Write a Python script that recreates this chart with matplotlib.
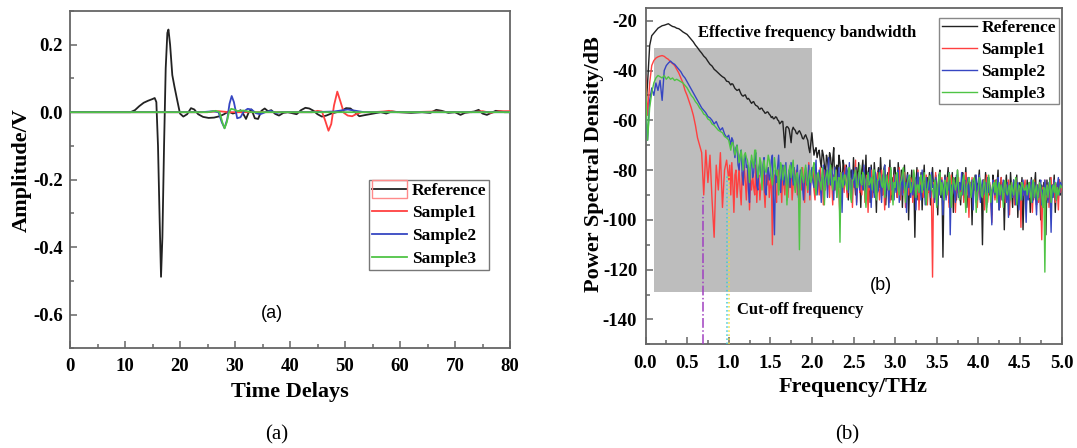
import numpy as np
import matplotlib
matplotlib.use("Agg")
import matplotlib.pyplot as plt
from matplotlib.patches import Rectangle
from matplotlib.ticker import MultipleLocator, FormatStrFormatter

# ---------------- data: panel (a) time-domain waveforms ----------------
t_ref = [0, 11.0, 11.8, 12.6, 13.4, 14.2, 15.0, 15.4, 15.7, 16.0, 16.3, 16.55, 16.8, 17.1,
         17.4, 17.7, 17.9, 18.2, 18.6, 19.0, 19.5, 20.0, 20.6, 21.3, 22.0, 22.6, 23.3, 24.2,
         25.2, 26.2, 27.2, 28.0, 28.8, 29.6, 30.4, 31.0, 31.5, 32.0, 32.5, 33.0, 33.6, 34.2,
         34.8, 35.4, 36.0, 36.6, 37.3, 38.0, 38.8, 39.6, 40.4, 41.2, 42.0, 42.8, 43.5, 44.3,
         45.0, 45.8, 46.6, 47.5, 48.5, 49.4, 50.2, 51.0, 51.8, 52.6, 53.5, 54.5, 55.5, 56.5,
         57.5, 58.5, 60.0, 62.0, 64.0, 65.5, 66.6, 67.6, 68.8, 70.0, 71.0, 71.8, 72.6, 73.5,
         74.3, 75.0, 75.8, 76.6, 77.4, 78.2, 79.0, 80.0]
amp_ref = [0, 0, 0.006, 0.018, 0.028, 0.034, 0.039, 0.042, 0.03, -0.1, -0.32, -0.488, -0.37, -0.1,
           0.13, 0.235, 0.245, 0.2, 0.11, 0.075, 0.035, -0.004, -0.013, -0.006, 0.012, 0.008, -0.006, -0.014,
           -0.017, -0.016, -0.012, -0.006, 0.002, -0.004, 0.0, 0.006, -0.005, -0.02, 0.0, 0.008, -0.018, -0.02,
           0.004, 0.011, 0.003, 0.006, -0.005, -0.01, -0.002, 0.0, -0.003, -0.006, 0.006, 0.013, 0.011, 0.004,
           -0.006, -0.013, -0.01, -0.004, 0.0, 0.004, 0.012, 0.011, 0.0, -0.012, -0.009, -0.006, -0.003, 0.0,
           -0.004, 0.002, 0.0, -0.002, 0.0, -0.002, 0.007, 0.004, -0.002, 0.0, -0.008, -0.002, 0.0, 0.002,
           0.007, -0.004, -0.008, -0.002, 0.004, 0.003, 0.0, 0.0]

t_s1 = [0, 25.0, 27.0, 29.0, 44.0, 45.0, 45.8, 46.4, 47.0, 47.5, 48.0, 48.6, 49.2, 49.8, 50.5,
        51.3, 52.0, 53.0, 55.0, 57.0, 58.0, 59.5, 62.0, 66.0, 70.0, 73.0, 75.0, 76.5, 78.0, 80.0]
amp_s1 = [0, 0, 0.003, 0, 0, 0.004, 0.002, -0.025, -0.055, -0.035, 0.02, 0.061, 0.03, -0.002, -0.01,
          -0.012, -0.006, 0, 0, 0.002, 0.004, 0, 0, 0.002, 0, 0, 0.003, -0.002, 0.003, 0.003]

t_s2 = [0, 24.0, 26.0, 27.0, 27.6, 28.1, 28.6, 29.0, 29.4, 29.8, 30.4, 31.0, 31.6, 32.3, 33.0,
        33.8, 34.6, 35.5, 36.5, 37.5, 38.5, 40.0, 44.0, 48.0, 50.5, 52.0, 53.5, 55.0, 60.0, 80.0]
amp_s2 = [0, 0, 0.003, 0.0, -0.03, -0.047, -0.02, 0.025, 0.048, 0.03, -0.018, -0.015, 0.002, 0.01, 0.008,
          -0.003, -0.006, 0.0, 0.004, -0.002, 0.0, 0.0, 0.0, 0.002, 0.008, 0.004, 0.0, 0.0, 0.0, 0.0]

t_s3 = [0, 25.0, 26.5, 27.2, 27.7, 28.1, 28.5, 28.9, 29.3, 29.8, 30.5, 31.5, 33.0, 80.0]
amp_s3 = [0, 0.0, 0.004, 0.0, -0.03, -0.048, -0.03, 0.0, 0.01, 0.008, 0.003, 0.005, 0.0, 0.0]

# ---------------- data: panel (b) power spectral density (dB) ----------------
# 0.000 - 0.975 THz, step 0.025
step_lo = 0.025
psd_ref_lo = [
    -58, -45, -30, -26, -25, -24, -23, -22.5, -22, -21.8, -21.5, -21.2, -21.8, -22.3, -22.5, -23, -23.2, -23.8, -24.5, -25,
    -25.5, -26.5, -27.5, -28.5, -29.8, -30.8, -32, -33, -34.2, -35, -36.3, -37.5, -38.2, -39.5, -40.2, -41, -41.8, -42.5, -43, -44.3]
psd_s1_lo = [
    -42, -58, -45, -38, -36, -35, -34.5, -34.2, -34, -34.3, -35, -35.5, -36.5, -37.2, -38, -39.5, -41, -43, -45, -48,
    -50, -52.5, -55, -58, -62, -67, -70, -73, -90, -72, -85, -74, -92, -107, -78, -88, -73, -95, -80, -76]
psd_s2_lo = [
    -55, -68, -52, -47, -50, -45, -48, -44, -52, -40, -38, -37, -36.2, -37, -37.5, -38.5, -39.5, -40.5, -42, -43,
    -44.5, -46, -47.5, -49, -50.5, -52, -53.5, -55, -56, -57, -58.5, -59, -60, -61.5, -60.5, -62.5, -64, -63, -65.5, -67]
psd_s3_lo = [
    -45, -68, -55, -49, -45, -43, -42, -42.5, -43, -42, -43.5, -42.5, -43.5, -43, -44, -43.5, -44, -44.5, -45, -46,
    -47, -48.5, -50, -51, -52.5, -53.5, -55, -56, -57.5, -58, -59.5, -60, -61.5, -62, -63, -64, -64.5, -65, -66.5, -67]

# 1.000 - 5.000 THz, step 0.0125
f_hi_start = 1.0
step_hi = 0.0125
psd_ref_hi = [
    -44.5, -45.2, -45.8, -45.3, -45.5, -46.4, -47.2, -47.6, -48, -47.8, -47.5, -48.6, -49.5, -50.1, -50.3, -49.9,
    -49.8, -50.8, -51.5, -51.2, -51.8, -52.6, -53.2, -52.7, -52.5, -53.4, -54, -54.2, -54.5, -55.3, -55.6, -55.1,
    -55.2, -56, -56.5, -57.2, -57, -56.6, -56.8, -57.6, -58, -58.9, -58.5, -59.4, -59.3, -58.6, -58.8, -59.8,
    -60.2, -61.4, -61, -60.4, -60.5, -66, -71, -63, -62.5, -62.8, -63.5, -66, -69, -64, -62.8, -63.6,
    -64, -65.2, -65.5, -64.6, -64.2, -65, -66, -67.3, -67.5, -66.4, -65.8, -67, -68, -71, -73, -69,
    -65, -70, -74, -72, -71, -75, -73, -72, -76, -79, -72, -74, -78, -83, -74, -76,
    -80, -73, -75, -82, -76, -71, -88, -79, -78, -84, -74, -77, -83, -90, -76, -79,
    -85, -78, -81, -92, -79, -83, -80, -87, -75, -84, -90, -79, -86, -77, -82, -95,
    -80, -76, -88, -83, -74, -91, -81, -79, -93, -78, -85, -89, -77, -84, -97, -82,
    -79, -87, -75, -83, -90, -80, -78, -94, -84, -81, -86, -76, -92, -83, -88, -79,
    -79, -86, -91, -77, -84, -88, -80, -95, -82, -78, -89, -85, -81, -100, -83, -87,
    -80, -90, -84, -107, -86, -79, -92, -83, -88, -81, -96, -85, -78, -91, -86, -83,
    -89, -81, -94, -84, -79, -88, -92, -82, -86, -98, -83, -80, -91, -85, -115, -87,
    -82, -90, -84, -79, -93, -86, -88, -81, -97, -85, -83, -92, -80, -89, -87, -94,
    -84, -81, -91, -86, -79, -95, -88, -83, -90, -85, -102, -84, -87, -82, -93, -86,
    -85, -80, -92, -87, -110, -84, -89, -81, -94, -86, -83, -90, -88, -98, -82, -87,
    -91, -84, -86, -80, -96, -88, -83, -92, -85, -104, -87, -82, -90, -86, -93, -81,
    -88, -95, -84, -90, -86, -82, -99, -87, -85, -91, -83, -104, -88, -86, -93, -84,
    -90, -85, -97, -83, -88, -92, -86, -81, -94, -87, -89, -84, -100, -86, -91, -85,
    -88, -106, -84, -92, -87, -83, -95, -86, -89, -82, -97, -88, -85, -91, -84, -90,
    -86]
psd_s1_hi = [
    -84, -78, -90, -77, -86, -97, -82, -80, -91, -85, -79, -88, -94, -81, -86, -78,
    -85, -92, -80, -79, -96, -84, -88, -81, -87, -90, -78, -93, -84, -82, -92, -86,
    -84, -80, -88, -95, -82, -86, -79, -91, -86, -83, -110, -85, -82, -89, -93, -80,
    -80, -88, -84, -93, -79, -86, -90, -81, -85, -91, -83, -87, -80, -92, -86, -84,
    -87, -80, -90, -85, -95, -82, -88, -79, -86, -93, -81, -84, -89, -77, -92, -83,
    -84, -79, -88, -92, -80, -85, -82, -90, -79, -86, -83, -94, -80, -88, -84, -81,
    -85, -91, -79, -84, -94, -82, -88, -80, -87, -83, -90, -99, -81, -86, -84, -89,
    -78, -86, -91, -83, -80, -88, -84, -95, -82, -87, -76, -93, -85, -81, -89, -84,
    -90, -83, -79, -93, -86, -82, -97, -84, -88, -80, -91, -85, -83, -89, -86, -81,
    -84, -92, -87, -80, -90, -85, -96, -82, -86, -88, -79, -93, -84, -90, -86, -82,
    -88, -82, -91, -85, -79, -92, -86, -83, -89, -81, -95, -87, -84, -90, -86, -83,
    -85, -93, -81, -88, -86, -90, -80, -96, -84, -89, -83, -91, -85, -87, -82, -94,
    -86, -89, -83, -92, -123, -85, -88, -81, -94, -86, -90, -84, -87, -83, -92, -88,
    -85, -91, -83, -88, -95, -86, -82, -90, -87, -84, -97, -85, -89, -83, -92, -86,
    -88, -84, -93, -86, -81, -90, -87, -99, -85, -89, -83, -92, -86, -88, -84, -95,
    -87, -83, -91, -86, -89, -84, -96, -86, -82, -93, -88, -85, -90, -101, -86, -84,
    -92, -87, -84, -90, -86, -95, -83, -89, -88, -85, -93, -86, -91, -84, -98, -87,
    -85, -90, -87, -94, -84, -89, -86, -92, -88, -103, -85, -90, -87, -84, -95, -88,
    -86, -91, -85, -89, -97, -87, -84, -92, -88, -86, -93, -85, -90, -108, -87, -89,
    -84, -92, -88, -86, -95, -87, -83, -90, -89, -85, -93, -86, -88, -96, -84, -89,
    -87]
psd_s2_hi = [
    -66, -68, -70, -67, -68, -72, -75, -71, -70, -78, -80, -74, -72, -82, -86, -76,
    -74, -79, -78, -88, -93, -77, -76, -83, -81, -75, -73, -86, -88, -79, -77, -82,
    -84, -78, -75, -89, -90, -81, -79, -84, -82, -76, -74, -92, -106, -80, -85, -79,
    -74, -83, -89, -80, -78, -86, -83, -77, -92, -84, -80, -87, -77, -82, -86, -79,
    -88, -83, -78, -91, -84, -80, -81, -87, -92, -82, -79, -86, -85, -78, -90, -83,
    -79, -85, -87, -81, -76, -90, -84, -80, -85, -93, -82, -78, -88, -83, -80, -91,
    -75, -84, -86, -80, -82, -92, -79, -85, -91, -83, -79, -87, -84, -97, -81, -86,
    -85, -79, -81, -89, -77, -86, -92, -80, -83, -87, -79, -94, -84, -81, -88, -82,
    -82, -88, -78, -85, -90, -84, -81, -87, -79, -95, -83, -86, -91, -81, -84, -89,
    -88, -80, -85, -93, -82, -87, -78, -90, -84, -86, -95, -83, -80, -88, -85, -92,
    -82, -89, -84, -80, -93, -86, -83, -90, -81, -88, -85, -97, -82, -87, -84, -91,
    -85, -90, -87, -83, -96, -84, -81, -89, -86, -92, -80, -88, -85, -94, -83, -87,
    -88, -84, -91, -81, -87, -86, -93, -83, -89, -94, -82, -90, -87, -84, -98, -86,
    -83, -92, -85, -88, -81, -106, -86, -90, -84, -89, -93, -82, -87, -91, -85, -88,
    -81, -90, -86, -84, -95, -87, -83, -91, -86, -89, -84, -96, -85, -88, -82, -92,
    -86, -82, -93, -87, -84, -90, -88, -85, -95, -83, -89, -86, -91, -102, -84, -88,
    -90, -85, -87, -83, -96, -88, -86, -92, -84, -89, -87, -93, -85, -99, -86, -90,
    -86, -91, -84, -88, -94, -87, -85, -96, -89, -86, -92, -84, -90, -88, -101, -86,
    -92, -86, -89, -84, -93, -88, -85, -90, -98, -86, -91, -87, -84, -94, -88, -90,
    -84, -90, -87, -93, -85, -89, -105, -86, -91, -84, -88, -92, -86, -83, -90, -85,
    -86]
psd_s3_hi = [
    -68, -70, -72, -69, -69, -71, -74, -72, -70, -73, -77, -75, -72, -76, -80, -74,
    -73, -75, -76, -79, -85, -78, -74, -77, -79, -72, -72, -78, -83, -80, -75, -77,
    -88, -79, -76, -80, -81, -78, -74, -76, -79, -83, -86, -82, -75, -79, -82, -80,
    -90, -83, -77, -79, -84, -81, -78, -82, -94, -85, -80, -78, -83, -79, -76, -84,
    -89, -82, -81, -86, -112, -84, -79, -83, -85, -81, -78, -84, -88, -83, -80, -85,
    -83, -79, -77, -86, -90, -82, -81, -84, -85, -88, -79, -83, -94, -84, -82, -80,
    -86, -81, -78, -85, -88, -83, -84, -80, -91, -85, -83, -109, -81, -84, -87, -82,
    -82, -86, -88, -81, -79, -90, -93, -84, -84, -82, -80, -87, -87, -83, -78, -85,
    -86, -81, -82, -89, -95, -84, -81, -86, -85, -83, -88, -80, -80, -89, -92, -84,
    -84, -81, -83, -86, -87, -80, -91, -85, -82, -86, -88, -84, -79, -87, -94, -85,
    -87, -82, -81, -88, -90, -85, -84, -81, -79, -86, -93, -87, -85, -83, -82, -89,
    -88, -85, -80, -84, -91, -86, -86, -89, -83, -82, -89, -85, -81, -87, -94, -88,
    -85, -83, -82, -88, -88, -91, -84, -86, -95, -87, -83, -81, -90, -85, -88, -92,
    -84, -86, -90, -85, -81, -84, -95, -88, -83, -85, -88, -86, -80, -87, -92, -89,
    -90, -84, -82, -88, -97, -86, -85, -83, -85, -91, -88, -84, -83, -86, -97, -89,
    -88, -83, -84, -90, -91, -86, -84, -89, -97, -86, -82, -87, -93, -88, -86, -85,
    -89, -84, -93, -87, -85, -90, -86, -88, -95, -85, -84, -89, -90, -87, -86, -92,
    -85, -88, -90, -86, -83, -94, -89, -86, -87, -92, -85, -86, -88, -88, -86, -90,
    -87, -85, -89, -93, -86, -84, -91, -88, -86, -92, -89, -85, -87, -90, -95, -87,
    -121, -88, -86, -91, -87, -84, -93, -88, -86, -89, -85, -92, -87, -90, -88, -86,
    -87]

series_names = ["Reference", "Sample1", "Sample2", "Sample3"]

# annotations of panel (b)
band_f = (0.1, 2.0)          # effective frequency bandwidth (THz)
band_db = (-129, -31)        # vertical extent of the shaded box (dB)
cutoff_s1 = (0.69, -91)      # (frequency, top of marker line)
cutoff_s2 = (0.985, -82)
cutoff_s3 = (1.005, -82)

# ---------------- style ----------------
SERIF = ['Liberation Serif', 'DejaVu Serif']
SANS = ['Liberation Sans', 'DejaVu Sans']
plt.rcParams['font.family'] = SERIF
plt.rcParams['font.weight'] = 'bold'
plt.rcParams['axes.unicode_minus'] = False

colors = ['#222222', '#ff4040', '#3646c2', '#4fc445']
spine_c = '#666666'

fig = plt.figure(figsize=(10.77, 4.48), dpi=100)
W, H = 1077.0, 448.0
ax1 = fig.add_axes([70 / W, 1 - 348.3 / H, 440 / W, 337.3 / H])
ax2 = fig.add_axes([645.5 / W, 1 - 344.3 / H, 416 / W, 336 / H])


def style_axes(ax, xpad, ypad):
    for s in ax.spines.values():
        s.set_color(spine_c)
        s.set_linewidth(1.3)
    ax.tick_params(which='both', direction='in', top=False, right=False, color=spine_c, width=1.1)
    ax.tick_params(which='major', length=5, labelsize=13.5)
    ax.tick_params(which='minor', length=3)
    ax.tick_params(axis='x', pad=xpad)
    ax.tick_params(axis='y', pad=ypad)
    for lab in ax.get_xticklabels() + ax.get_yticklabels():
        lab.set_fontweight('bold')


# ---------------- panel (a) ----------------
ax1.plot(t_ref, amp_ref, color=colors[0], lw=1.3, label=series_names[0], zorder=2)
ax1.plot(t_s1, amp_s1, color=colors[1], lw=1.3, label=series_names[1], zorder=3)
ax1.plot(t_s2, amp_s2, color=colors[2], lw=1.3, label=series_names[2], zorder=4)
ax1.plot(t_s3, amp_s3, color=colors[3], lw=1.3, label=series_names[3], zorder=5)
ax1.set_xlim(0, 80)
ax1.set_ylim(-0.7, 0.3)
ax1.xaxis.set_major_locator(MultipleLocator(10))
ax1.xaxis.set_minor_locator(MultipleLocator(5))
ax1.yaxis.set_minor_locator(MultipleLocator(0.1))
ax1.xaxis.set_major_formatter(FormatStrFormatter('%d'))
ax1.yaxis.set_major_formatter(FormatStrFormatter('%.1f'))
ax1.set_yticks([-0.6, -0.4, -0.2, 0.0, 0.2])
style_axes(ax1, 7, 5)

leg1 = ax1.legend(loc='upper left', bbox_to_anchor=(0.68, 0.499), borderaxespad=0,
                  fancybox=False, edgecolor='#777777', framealpha=1,
                  prop={'family': SERIF, 'weight': 'bold', 'size': 12.5},
                  handlelength=2.05, handletextpad=0.25, borderpad=0.15, labelspacing=0.38)
leg1.get_frame().set_linewidth(1.0)

ax1.text(36.7, -0.598, '(a)', family=SANS, fontweight='normal', fontsize=13,
         ha='center', va='center')

# ---------------- panel (b) ----------------
ax2.add_patch(Rectangle((band_f[0], band_db[0]), band_f[1] - band_f[0], band_db[1] - band_db[0],
                        facecolor='#bdbdbd', edgecolor='none', zorder=0.5))
psd_lo_all = [psd_ref_lo, psd_s1_lo, psd_s2_lo, psd_s3_lo]
psd_hi_all = [psd_ref_hi, psd_s1_hi, psd_s2_hi, psd_s3_hi]
for i, name in enumerate(series_names):
    lo, hi = psd_lo_all[i], psd_hi_all[i]
    f = np.concatenate([np.arange(len(lo)) * step_lo, f_hi_start + np.arange(len(hi)) * step_hi])
    ax2.plot(f, list(lo) + list(hi), color=colors[i], lw=1.0, label=name, zorder=2 + i)

ax2.plot([cutoff_s1[0]] * 2, [-150, cutoff_s1[1]], color='#a040c0', lw=1.1, ls='-.', zorder=7)
ax2.plot([cutoff_s2[0]] * 2, [-150, cutoff_s2[1]], color='#40c8d8', lw=1.1, ls=':', zorder=7)
ax2.plot([cutoff_s3[0]] * 2, [-150, cutoff_s3[1]], color='#f0e040', lw=1.1, ls=':', zorder=7)

ax2.set_xlim(0, 5.0)
ax2.set_ylim(-150, -15)
ax2.xaxis.set_major_locator(MultipleLocator(0.5))
ax2.xaxis.set_minor_locator(MultipleLocator(0.25))
ax2.set_yticks([-140, -120, -100, -80, -60, -40, -20])
ax2.yaxis.set_minor_locator(MultipleLocator(10))
ax2.xaxis.set_major_formatter(FormatStrFormatter('%.1f'))
ax2.yaxis.set_major_formatter(FormatStrFormatter('%d'))
style_axes(ax2, 8, 6)

leg2 = ax2.legend(loc='upper left', bbox_to_anchor=(0.7055, 0.972), borderaxespad=0,
                  fancybox=False, edgecolor='#888888', framealpha=1,
                  prop={'family': SERIF, 'weight': 'bold', 'size': 12.5},
                  handlelength=2.05, handletextpad=0.25, borderpad=0.15, labelspacing=0.32)
leg2.get_frame().set_linewidth(1.0)

ax2.text(0.626, -24.8, 'Effective frequency bandwidth', fontsize=12, fontweight='bold',
         family=SERIF, ha='left', va='center', zorder=8)
ax2.text(1.096, -136.4, 'Cut-off frequency', fontsize=12, fontweight='bold',
         family=SERIF, ha='left', va='center', zorder=8)
ax2.text(2.83, -126.3, '(b)', family=SANS, fontweight='normal', fontsize=13,
         ha='center', va='center', zorder=8)

# ---------------- axis titles and captions ----------------
fig.text(290 / W, 1 - 391.7 / H, 'Time Delays', fontsize=16, fontweight='bold', family=SERIF,
         ha='center', va='center')
fig.text(21.7 / W, 1 - 170 / H, 'Amplitude/V', fontsize=16, fontweight='bold', family=SERIF,
         ha='center', va='center', rotation=90)
fig.text(853.5 / W, 1 - 386.7 / H, 'Frequency/THz', fontsize=16, fontweight='bold', family=SERIF,
         ha='center', va='center')
fig.text(594 / W, 1 - 164 / H, 'Power Spectral Density/dB', fontsize=16, fontweight='bold',
         family=SERIF, ha='center', va='center', rotation=90)
fig.text(277 / W, 1 - 435 / H, '(a)', fontsize=15, fontweight='normal', family=SERIF,
         ha='center', va='center')
fig.text(847 / W, 1 - 435 / H, '(b)', fontsize=15, fontweight='normal', family=SERIF,
         ha='center', va='center')

# pink outline around the Reference handle in legend (a), as in the original figure
fig.canvas.draw()
renderer = fig.canvas.get_renderer()
h0 = leg1.legend_handles[0]
bb = h0.get_window_extent(renderer)
ymid = 0.5 * (bb.y0 + bb.y1)
inv = fig.transFigure.inverted()
(x0f, y0f) = inv.transform((bb.x0, ymid - 9))
(x1f, y1f) = inv.transform((bb.x1, ymid + 9))
fig.add_artist(Rectangle((x0f, y0f), x1f - x0f, y1f - y0f, transform=fig.transFigure,
                         fill=False, edgecolor='#ff8a8a', lw=1.0, zorder=10))

fig.savefig('out.png', dpi=100)
